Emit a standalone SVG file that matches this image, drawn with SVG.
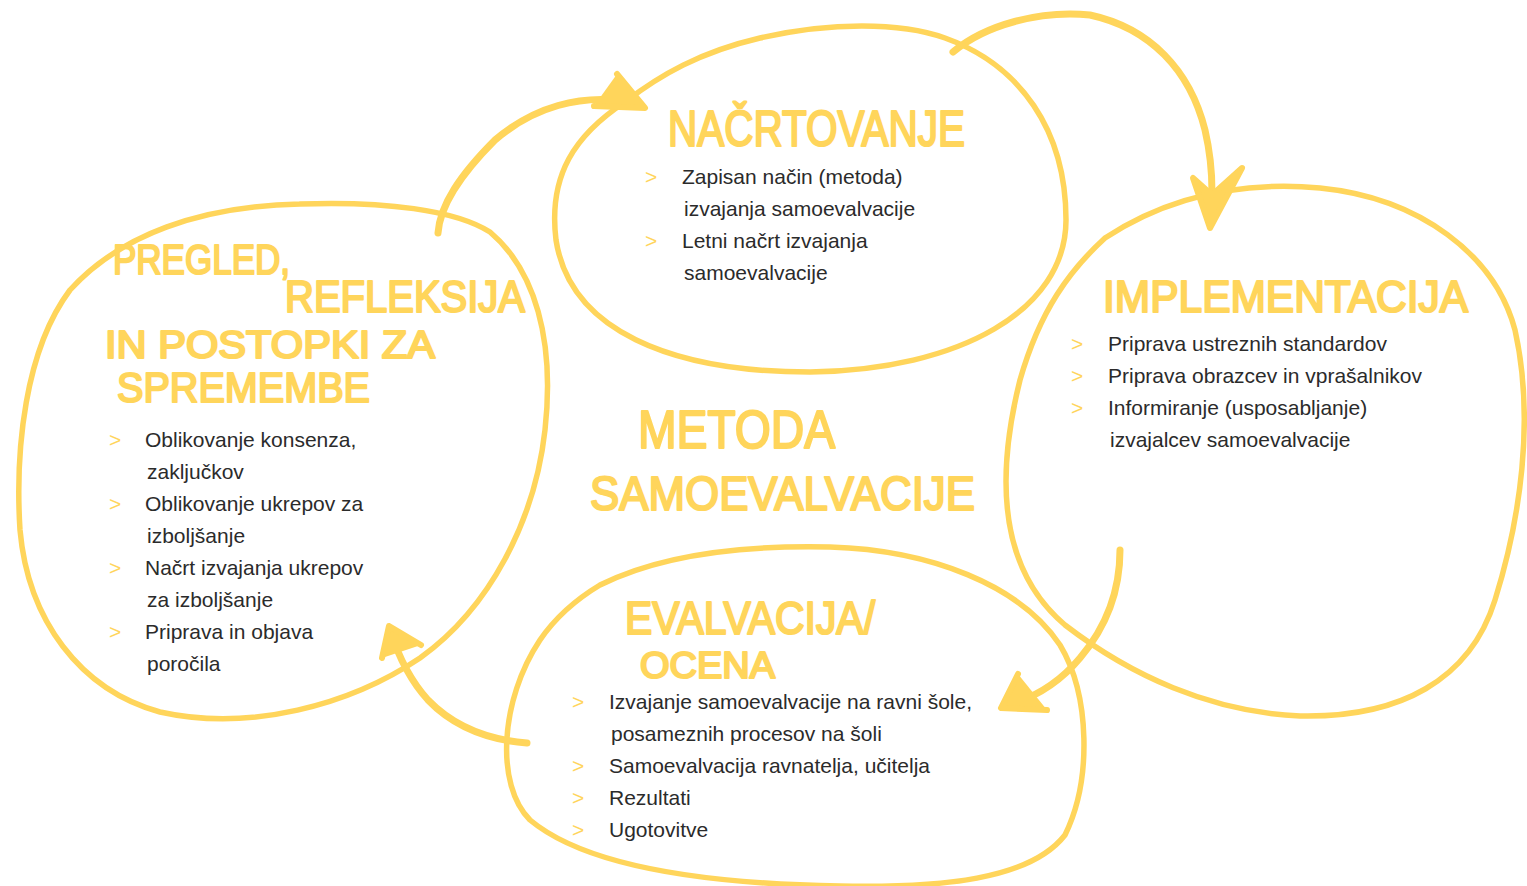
<svg xmlns="http://www.w3.org/2000/svg" width="1527" height="886" viewBox="0 0 1527 886">
<defs>
<style>
.loop{fill:none;stroke:#FFD55B;stroke-width:5.5;stroke-linecap:round;stroke-linejoin:round}
.arr{fill:none;stroke:#FFD55B;stroke-width:7;stroke-linecap:round;stroke-linejoin:round}
.head{fill:#FFD55B;stroke:#FFD55B;stroke-width:6;stroke-linecap:round;stroke-linejoin:round}
.h{font-family:"Liberation Sans",Arial,sans-serif;font-weight:normal;fill:#FFD55B;stroke:#FFD55B;stroke-width:2.2;stroke-linejoin:round}
.t{font-family:"Liberation Sans",Arial,sans-serif;font-size:21px;fill:#2b2b2b}
.b{font-family:"Liberation Sans",Arial,sans-serif;font-size:21px;fill:#FFD55B}
</style>
</defs>
<rect width="1527" height="886" fill="#ffffff"/>

<g id="loops">
<path id="loop-nacrtovanje" class="loop" d="M 625,102 C 660,75 700,52 760,38 C 830,22 900,22 945,38 C 1020,65 1066,130 1066,220 C 1066,310 960,370 810,372 C 670,372 570,330 556,240 C 548,175 575,135 625,102"/>
<path id="loop-implementacija" class="loop" d="M 1105,238 C 1160,202 1230,180 1320,188 C 1420,198 1495,255 1515,330 C 1535,420 1520,520 1495,600 C 1470,680 1400,718 1300,716 C 1210,712 1130,675 1065,625 C 1000,570 995,480 1020,380 C 1040,310 1070,270 1105,238"/>
<path id="loop-pregled" class="loop" d="M 300,204 C 200,206 120,235 70,290 C 25,350 15,450 20,530 C 28,620 80,690 160,712 C 250,732 350,705 420,658 C 490,608 535,520 545,430 C 555,340 535,270 490,232 C 455,210 385,201 300,204"/>
<path id="loop-evalvacija" class="loop" d="M 600,585 C 660,555 740,545 830,547 C 930,550 1020,585 1060,645 C 1090,695 1092,780 1065,835 C 1030,880 940,888 840,886 C 720,884 590,870 530,820 C 495,785 500,700 540,640 C 555,618 575,600 600,585"/>
</g>

<g id="connectors">
<path class="arr" d="M 438,233 C 440,205 460,175 495,140 C 530,110 580,90 640,104"/>
<path class="head" d="M 617,74 L 645,108 L 594,106"/>
<path class="arr" d="M 953,52 C 985,25 1040,10 1090,15 C 1150,28 1190,70 1205,130 C 1212,160 1213,190 1211,215"/>
<path class="head" d="M 1193,178 L 1210,228 L 1242,168 L 1212,195 Z"/>
<path class="arr" d="M 1120,550 C 1120,590 1108,625 1080,658 C 1060,682 1035,698 1005,706"/>
<path class="head" d="M 1018,674 L 1001,708 L 1047,710"/>
<path class="arr" d="M 527,743 C 490,740 455,728 428,700 C 408,678 397,652 390,630"/>
<path class="head" d="M 382,658 L 389,626 L 421,645"/>
</g>

<g id="center">
<text class="h" x="638" y="448" font-size="54" textLength="197" lengthAdjust="spacingAndGlyphs">METODA</text>
<text class="h" x="590" y="510" font-size="48" textLength="385" lengthAdjust="spacingAndGlyphs">SAMOEVALVACIJE</text>
</g>

<g id="nacrtovanje">
<text class="h" x="668" y="146" font-size="50" textLength="297" lengthAdjust="spacingAndGlyphs">NAČRTOVANJE</text>
<text class="b" x="645" y="184">&gt;</text>
<text class="t" x="682" y="184">Zapisan način (metoda)</text>
<text class="t" x="684" y="216">izvajanja samoevalvacije</text>
<text class="b" x="645" y="248">&gt;</text>
<text class="t" x="682" y="248">Letni načrt izvajanja</text>
<text class="t" x="684" y="280">samoevalvacije</text>
</g>

<g id="implementacija">
<text class="h" x="1103" y="312" font-size="44" textLength="365" lengthAdjust="spacingAndGlyphs">IMPLEMENTACIJA</text>
<text class="b" x="1071" y="351">&gt;</text>
<text class="t" x="1108" y="351">Priprava ustreznih standardov</text>
<text class="b" x="1071" y="383">&gt;</text>
<text class="t" x="1108" y="383">Priprava obrazcev in vprašalnikov</text>
<text class="b" x="1071" y="415">&gt;</text>
<text class="t" x="1108" y="415">Informiranje (usposabljanje)</text>
<text class="t" x="1110" y="447">izvajalcev samoevalvacije</text>
</g>

<g id="pregled">
<text class="h" x="113" y="274" font-size="42" textLength="177" lengthAdjust="spacingAndGlyphs">PREGLED,</text>
<text class="h" x="285" y="312" font-size="44" textLength="240" lengthAdjust="spacingAndGlyphs">REFLEKSIJA</text>
<text class="h" x="105" y="358" font-size="38" textLength="330" lengthAdjust="spacingAndGlyphs">IN POSTOPKI ZA</text>
<text class="h" x="117" y="402" font-size="42" textLength="253" lengthAdjust="spacingAndGlyphs">SPREMEMBE</text>
<text class="b" x="109" y="447">&gt;</text>
<text class="t" x="145" y="447">Oblikovanje konsenza,</text>
<text class="t" x="147" y="479">zaključkov</text>
<text class="b" x="109" y="511">&gt;</text>
<text class="t" x="145" y="511">Oblikovanje ukrepov za</text>
<text class="t" x="147" y="543">izboljšanje</text>
<text class="b" x="109" y="575">&gt;</text>
<text class="t" x="145" y="575">Načrt izvajanja ukrepov</text>
<text class="t" x="147" y="607">za izboljšanje</text>
<text class="b" x="109" y="639">&gt;</text>
<text class="t" x="145" y="639">Priprava in objava</text>
<text class="t" x="147" y="671">poročila</text>
</g>

<g id="evalvacija">
<text class="h" x="625" y="634" font-size="46" textLength="250" lengthAdjust="spacingAndGlyphs">EVALVACIJA/</text>
<text class="h" x="640" y="678" font-size="36" textLength="135" lengthAdjust="spacingAndGlyphs">OCENA</text>
<text class="b" x="572" y="709">&gt;</text>
<text class="t" x="609" y="709">Izvajanje samoevalvacije na ravni šole,</text>
<text class="t" x="611" y="741">posameznih procesov na šoli</text>
<text class="b" x="572" y="773">&gt;</text>
<text class="t" x="609" y="773">Samoevalvacija ravnatelja, učitelja</text>
<text class="b" x="572" y="805">&gt;</text>
<text class="t" x="609" y="805">Rezultati</text>
<text class="b" x="572" y="837">&gt;</text>
<text class="t" x="609" y="837">Ugotovitve</text>
</g>
</svg>
